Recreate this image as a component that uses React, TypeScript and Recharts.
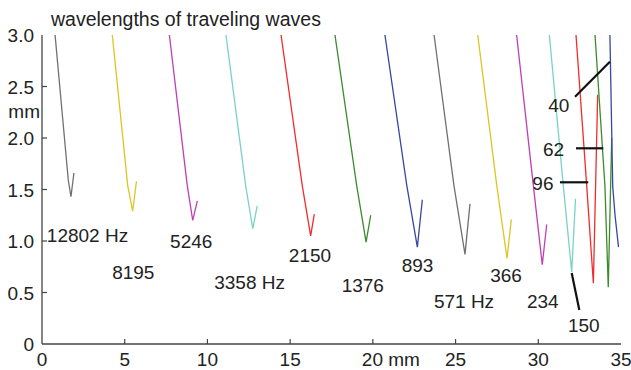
import { ComposedChart, Line, XAxis, YAxis, Scatter, ReferenceLine } from 'recharts';

// axis ticks
const xTicks = [0, 5, 10, 15, 20, 25, 30, 35];
const xTickLabels = ['0', '5', '10', '15', '20 mm', '25', '30', '35'];
const yTicks = [0, 0.5, 1, 1.5, 2, 2.5, 3];
const yTickLabels = ['0', '0.5', '1.0', '1.5', '2.0', '2.5', '3.0'];

// wavelength curves, x = place on the cochlea (mm), y = wavelength (mm)
const hz12802 = [{ x: 0.79, y: 3.0 }, { x: 1.59, y: 1.59 }, { x: 1.75, y: 1.43 }, { x: 1.93, y: 1.66 }];
const hz8195 = [{ x: 4.25, y: 3.0 }, { x: 5.18, y: 1.54 }, { x: 5.48, y: 1.29 }, { x: 5.71, y: 1.58 }];
const hz5246 = [{ x: 7.7, y: 3.0 }, { x: 8.78, y: 1.54 }, { x: 9.11, y: 1.2 }, { x: 9.39, y: 1.39 }];
const hz3358 = [{ x: 11.12, y: 3.0 }, { x: 12.31, y: 1.54 }, { x: 12.74, y: 1.12 }, { x: 13.01, y: 1.34 }];
const hz2150 = [{ x: 14.45, y: 3.0 }, { x: 15.73, y: 1.54 }, { x: 16.24, y: 1.05 }, { x: 16.46, y: 1.26 }];
const hz1376 = [{ x: 17.71, y: 3.0 }, { x: 19.02, y: 1.54 }, { x: 19.59, y: 0.99 }, { x: 19.87, y: 1.25 }];
const hz893 = [{ x: 20.73, y: 3.0 }, { x: 22.05, y: 1.54 }, { x: 22.69, y: 0.94 }, { x: 22.99, y: 1.4 }];
const hz571 = [{ x: 23.7, y: 3.0 }, { x: 24.9, y: 1.54 }, { x: 25.57, y: 0.87 }, { x: 25.87, y: 1.36 }];
const hz366 = [{ x: 26.34, y: 3.0 }, { x: 27.49, y: 1.54 }, { x: 28.11, y: 0.83 }, { x: 28.37, y: 1.21 }];
const hz234 = [{ x: 28.69, y: 3.0 }, { x: 29.7, y: 1.54 }, { x: 30.24, y: 0.77 }, { x: 30.51, y: 1.16 }];
const hz150 = [{ x: 30.67, y: 3.0 }, { x: 31.51, y: 1.54 }, { x: 32.02, y: 0.7 }, { x: 32.25, y: 1.41 }];
const hz96 = [{ x: 32.28, y: 3.0 }, { x: 32.93, y: 1.53 }, { x: 33.33, y: 0.59 }, { x: 33.59, y: 2.42 }];
const hz62 = [{ x: 33.43, y: 3.0 }, { x: 34.03, y: 1.53 }, { x: 34.23, y: 0.55 }, { x: 34.44, y: 2.0 }];
const hz40 = [{ x: 34.33, y: 3.0 }, { x: 34.5, y: 1.53 }, { x: 34.64, y: 1.25 }, { x: 34.85, y: 0.94 }];

const curves = [
    { name: '12802', data: hz12802, color: '#707070' },
    { name: '8195', data: hz8195, color: '#dcc624' },
    { name: '5246', data: hz5246, color: '#c23eb4' },
    { name: '3358', data: hz3358, color: '#79d3c5' },
    { name: '2150', data: hz2150, color: '#f22c2c' },
    { name: '1376', data: hz1376, color: '#3a8c2c' },
    { name: '893', data: hz893, color: '#3646a6' },
    { name: '571', data: hz571, color: '#707070' },
    { name: '366', data: hz366, color: '#dcc624' },
    { name: '234', data: hz234, color: '#c23eb4' },
    { name: '150', data: hz150, color: '#79d3c5' },
    { name: '96', data: hz96, color: '#f22c2c' },
    { name: '62', data: hz62, color: '#3a8c2c' },
    { name: '40', data: hz40, color: '#3646a6' },
];

// frequency labels
const freqLabels = [
    { x: 2.75, y: 1.06, text: '12802 Hz' },
    { x: 5.52, y: 0.7, text: '8195' },
    { x: 9.02, y: 1.0, text: '5246' },
    { x: 12.55, y: 0.6, text: '3358 Hz' },
    { x: 16.2, y: 0.86, text: '2150' },
    { x: 19.39, y: 0.57, text: '1376' },
    { x: 22.7, y: 0.77, text: '893' },
    { x: 25.51, y: 0.42, text: '571 Hz' },
    { x: 28.05, y: 0.67, text: '366' },
    { x: 30.27, y: 0.42, text: '234' },
    { x: 32.75, y: 0.18, text: '150' },
    { x: 31.24, y: 2.32, text: '40' },
    { x: 30.92, y: 1.89, text: '62' },
    { x: 30.28, y: 1.56, text: '96' },
];

// pointer lines from labels to curves
const pointers = [
    [{ x: 32.22, y: 2.4 }, { x: 34.33, y: 2.74 }],
    [{ x: 32.28, y: 1.9 }, { x: 33.93, y: 1.9 }],
    [{ x: 31.31, y: 1.57 }, { x: 33.02, y: 1.57 }],
    [{ x: 32.02, y: 0.69 }, { x: 32.48, y: 0.33 }],
];

const TITLE = 'wavelengths of traveling waves';
const FONT = '"Liberation Sans", Arial, sans-serif';
const AXIS = '#444';

function BottomTick({ x, y, payload, index }: any) {
    const label = xTickLabels[index];
    const v = payload.value;
    return (
        <g>
            {v > 0 && v < 35 && <line x1={x} x2={x} y1={y} y2={y - 5} stroke={AXIS} strokeWidth={1.2} />}
            <text x={v === 20 ? x - 11 : x} y={y + 22} textAnchor={v === 20 ? 'start' : 'middle'} fontSize={19} fontFamily={FONT} fill="#222">
                {label}
            </text>
        </g>
    );
}

function LeftTick({ x, y, payload, index }: any) {
    const v = payload.value;
    return (
        <g>
            {v > 0 && v < 3 && <line x1={x} x2={x + 5} y1={y} y2={y} stroke={AXIS} strokeWidth={1.2} />}
            <text x={x - 8} y={y + 7} textAnchor="end" fontSize={19} fontFamily={FONT} fill="#222">
                {yTickLabels[index]}
            </text>
        </g>
    );
}

function TopTick({ x, y, payload }: any) {
    const v = payload.value;
    if (v <= 0 || v >= 35) return <g />;
    return <line x1={x} x2={x} y1={y} y2={y + 5} stroke={AXIS} strokeWidth={1.2} />;
}

function RightTick({ x, y, payload }: any) {
    const v = payload.value;
    if (v <= 0 || v >= 3) return <g />;
    return <line x1={x} x2={x - 5} y1={y} y2={y} stroke={AXIS} strokeWidth={1.2} />;
}

// "mm" unit beside the y axis, plus the title above the plot
function AxisTexts({ viewBox }: any) {
    const right = viewBox.x + viewBox.width;
    return (
        <g>
            <text x={right - 2} y={viewBox.y + 83} textAnchor="end" fontSize={19} fontFamily={FONT} fill="#222">
                mm
            </text>
            <text x={right + 9} y={viewBox.y - 9} textAnchor="start" fontSize={19.5} fontFamily={FONT} fill="#222">
                {TITLE}
            </text>
        </g>
    );
}

function TextMark({ cx, cy, payload }: any) {
    return (
        <text x={cx} y={cy + 7} textAnchor="middle" fontSize={19} fontFamily={FONT} fill="#222">
            {payload.text}
        </text>
    );
}

export default function App() {
    return (
        <div style={{ position: 'absolute', left: 0, top: 0, width: 631, height: 370, background: '#fff' }}>
            <ComposedChart width={631} height={370} margin={{ top: 35, right: 10, bottom: 0, left: 0 }}>
                <XAxis type="number" dataKey="x" domain={[0, 35]} ticks={xTicks} interval={0} height={26}
                    axisLine={{ stroke: AXIS, strokeWidth: 1.3 }} tickLine={false} tickSize={0} tickMargin={0} tick={<BottomTick />} allowDataOverflow />
                <XAxis xAxisId="top" orientation="top" type="number" dataKey="x" domain={[0, 35]} ticks={xTicks} interval={0} height={0}
                    axisLine={{ stroke: AXIS, strokeWidth: 1.3 }} tickLine={false} tickSize={0} tickMargin={0} tick={<TopTick />} allowDataOverflow />
                <YAxis type="number" dataKey="y" domain={[0, 3]} ticks={yTicks} interval={0} width={42}
                    axisLine={{ stroke: AXIS, strokeWidth: 1.3 }} tickLine={false} tickSize={0} tickMargin={0} tick={<LeftTick />}
                    label={{ value: 'mm', content: <AxisTexts /> }} allowDataOverflow />
                <YAxis yAxisId="right" orientation="right" type="number" dataKey="y" domain={[0, 3]} ticks={yTicks} interval={0} width={0}
                    axisLine={{ stroke: AXIS, strokeWidth: 1.3 }} tickLine={false} tickSize={0} tickMargin={0} tick={<RightTick />} allowDataOverflow />
                {curves.map(c => (
                    <Line key={c.name} data={c.data} dataKey="y" type="linear" stroke={c.color} strokeWidth={1.3}
                        dot={false} activeDot={false} isAnimationActive={false} />
                ))}
                {pointers.map((seg, i) => (
                    <ReferenceLine key={i} segment={seg} stroke="#111" strokeWidth={2.2} ifOverflow="visible" />
                ))}
                <Scatter data={freqLabels} dataKey="y" shape={<TextMark />} isAnimationActive={false} />
            </ComposedChart>
        </div>
    );
}
